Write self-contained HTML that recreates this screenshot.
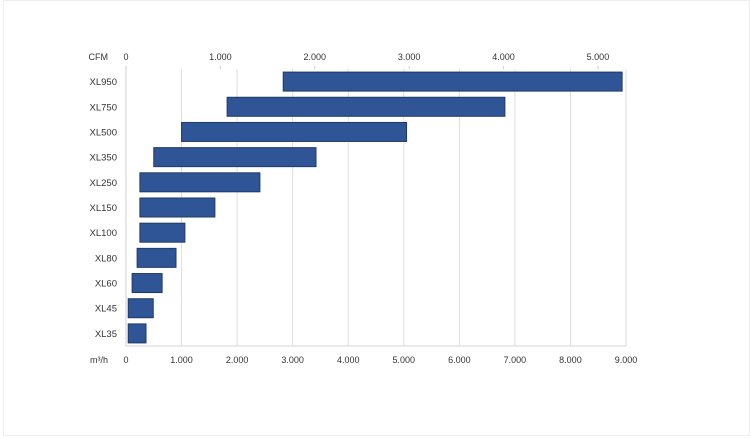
<!DOCTYPE html>
<html><head><meta charset="utf-8"><style>
body{margin:0;background:#fff;}
svg{display:block;font-family:"Liberation Sans",sans-serif;}
</style></head><body>
<svg id="chart" width="750" height="438" viewBox="0 0 750 438" xmlns="http://www.w3.org/2000/svg">
<rect x="3.5" y="0.5" width="746" height="435" fill="#fff" stroke="#eeeeee"/>
<g id="grid"></g><g id="bars"></g><g id="labels"></g>
</svg>
<script>
const categories=["XL950","XL750","XL500","XL350","XL250","XL150","XL100","XL80","XL60","XL45","XL35"];
const minFlow=[2830,1820,1000,500,250,250,250,200,110,40,40];
const maxFlow=[8930,6820,5050,3420,2410,1600,1060,900,650,490,360];
const m3hTicks=[0,1000,2000,3000,4000,5000,6000,7000,8000,9000];
const m3hTickLabels=["0","1.000","2.000","3.000","4.000","5.000","6.000","7.000","8.000","9.000"];
const cfmTicks=[0,1000,2000,3000,4000,5000];
const cfmTickLabels=["0","1.000","2.000","3.000","4.000","5.000"];
const NS="http://www.w3.org/2000/svg";
const x0=126,x1=626,plotTop=69,plotBottom=346;
const x=v=>x0+(v/9000)*(x1-x0);
const xc=v=>x(v*1.699);
const rowH=(plotBottom-plotTop)/categories.length;
const y=i=>plotTop+rowH*(i+0.5);
function mk(t,a,p){const e=document.createElementNS(NS,t);for(const k in a)e.setAttribute(k,a[k]);document.getElementById(p).appendChild(e);return e;}
m3hTicks.forEach((v,i)=>{
 const g=mk("line",{x1:x(v),x2:x(v),y1:plotTop,y2:plotBottom,stroke:i==0?"#cfcfcf":"#dedede","stroke-width":1},"grid");
 
 
 const t=mk("text",{x:x(v),y:363,"font-size":9,fill:"#333","text-anchor":"middle"},"labels");
 t.textContent=m3hTickLabels[i];
 
 
});
cfmTicks.forEach((v,i)=>{
 const l=mk("line",{x1:xc(v),x2:xc(v),y1:plotTop-3,y2:plotTop,stroke:"#cfcfcf"},"grid");
 
 
 const t=mk("text",{x:xc(v),y:60,"font-size":9,fill:"#333","text-anchor":"middle"},"labels");
 t.textContent=cfmTickLabels[i];
 
 
});
const b=mk("line",{x1:x0,x2:x1,y1:plotBottom,y2:plotBottom,stroke:"#d5d5d5"},"grid");


categories.forEach((c,i)=>{
 const r=mk("rect",{x:x(minFlow[i]),y:y(i)-9.5,width:x(maxFlow[i])-x(minFlow[i]),height:19,fill:"#2f5597",stroke:"#1f3a6a","stroke-width":1},"bars");
 
 
 const t=mk("text",{x:117,y:y(i)+3.5,"font-size":9.5,fill:"#333","text-anchor":"end"},"labels");
 t.textContent=c;
 
 
});
const a=mk("text",{x:108,y:60,"font-size":9,fill:"#333","text-anchor":"end"},"labels");
a.textContent="CFM";


const m=mk("text",{x:108,y:363,"font-size":9,fill:"#333","text-anchor":"end"},"labels");
m.textContent="m³/h";


</script>
</body></html>
